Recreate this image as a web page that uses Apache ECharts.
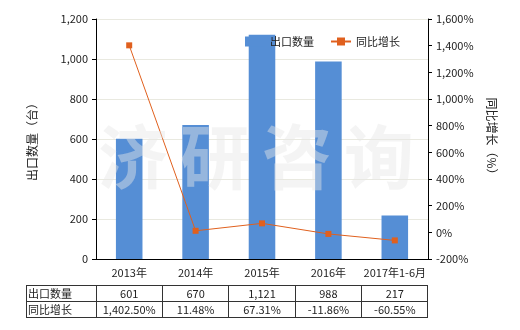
<!DOCTYPE html>
<html><head><meta charset="utf-8">
<script src="https://cdn.jsdelivr.net/npm/echarts@6/dist/echarts.min.js"></script>
<style>html,body{margin:0;padding:0;background:#fff}#c{width:520px;height:330px}</style>
</head><body><div id="c"></div>
<script>
const categories = ['2013年','2014年','2015年','2016年','2017年1-6月'];
const exportQty = [601, 670, 1121, 988, 217];
const yoyGrowth = [1402.50, 11.48, 67.31, -11.86, -60.55];
const qtyLabels = ['601','670','1,121','988','217'];
const growthLabels = ['1,402.50%','11.48%','67.31%','-11.86%','-60.55%'];
const seriesNames = ['出口数量','同比增长'];
const watermark = ['济','研','咨','询'];

const font = '"Noto Sans CJK SC", sans-serif';
const chart = echarts.init(document.getElementById('c'));
const fmt = v => v.toLocaleString('en-US');
chart.setOption({
  animation:false,
  textStyle:{fontFamily:font},
  grid:{left:96,right:92,top:19,bottom:71},
  legend:{top:31,left:240,itemGap:16,itemWidth:20,itemHeight:10,
    textStyle:{fontSize:11,color:'#222',fontFamily:font},
    data:[{name:seriesNames[0],icon:'rect'},{name:seriesNames[1]}]},
  xAxis:{type:'category',data:categories,
    axisLine:{lineStyle:{color:'#000'}},axisTick:{alignWithLabel:true,length:4,lineStyle:{color:'#000'}},
    axisLabel:{fontSize:11,color:'#222',margin:8,interval:0,fontFamily:font}},
  yAxis:[
    {type:'value',min:0,max:1200,interval:200,name:'出口数量（台）',nameLocation:'middle',nameGap:58,nameRotate:90,
     nameTextStyle:{fontSize:12,color:'#222',fontFamily:font},
     axisLine:{show:true,lineStyle:{color:'#000'}},axisTick:{show:true,length:4,lineStyle:{color:'#000'}},
     axisLabel:{fontSize:11,color:'#222',formatter:v=>fmt(v),fontFamily:font},
     splitLine:{lineStyle:{color:'#e9e9e0'}}},
    {type:'value',min:-200,max:1600,interval:200,name:'同比增长（%）',nameLocation:'middle',nameGap:58,nameRotate:-90,
     nameTextStyle:{fontSize:12,color:'#222',fontFamily:font},
     axisLine:{show:true,lineStyle:{color:'#000'}},axisTick:{show:true,length:4,lineStyle:{color:'#000'}},
     axisLabel:{fontSize:11,color:'#222',formatter:v=>fmt(v)+'%',fontFamily:font},
     splitLine:{show:false}}
  ],
  series:[
    {name:seriesNames[0],type:'bar',data:exportQty,barWidth:'40%',itemStyle:{color:'#558ed5'}},
    {name:seriesNames[1],type:'line',yAxisIndex:1,data:yoyGrowth,symbol:'rect',symbolSize:6,
     lineStyle:{color:'#e0601e',width:1},itemStyle:{color:'#e0601e'}}
  ]
});

const g = [];
watermark.forEach((ch,i)=>{
  g.push({type:'text',x: 98 + i*82, y:122, silent:true,z:100,
    style:{text:ch,font:'bold 70px '+font,fill:'rgba(230,230,230,0.45)'}});
});
const x0 = 26, xl = 96, xr = 427, y0 = 285, rh = 16;
const colW = (xr - xl)/categories.length;
const lineStyle = {stroke:'#333',lineWidth:1};
const L = (x1,y1,x2,y2)=>g.push({type:'line',shape:{x1,y1,x2,y2},style:lineStyle,silent:true});
for(let r=0;r<=2;r++) L(x0,y0+r*rh+0.5,xr,y0+r*rh+0.5);
L(x0+0.5,y0,x0+0.5,y0+2*rh+1);
for(let c=0;c<=categories.length;c++) L(Math.round(xl+c*colW)+0.5,y0,Math.round(xl+c*colW)+0.5,y0+2*rh+1);
const rows = [[seriesNames[0],qtyLabels],[seriesNames[1],growthLabels]];
rows.forEach((row,r)=>{
  const cy = y0 + r*rh + rh/2 + 1;
  g.push({type:'text',x:x0+2,y:cy,style:{text:row[0],font:'11px '+font,fill:'#222',verticalAlign:'middle'}});
  row[1].forEach((t,i)=>{
    const cx = chart.convertToPixel({xAxisIndex:0}, categories[i]);
    g.push({type:'text',x:cx,y:cy,style:{text:t,font:'11px '+font,fill:'#222',align:'center',verticalAlign:'middle'}});
  });
});
chart.setOption({graphic:g});
</script></body></html>
